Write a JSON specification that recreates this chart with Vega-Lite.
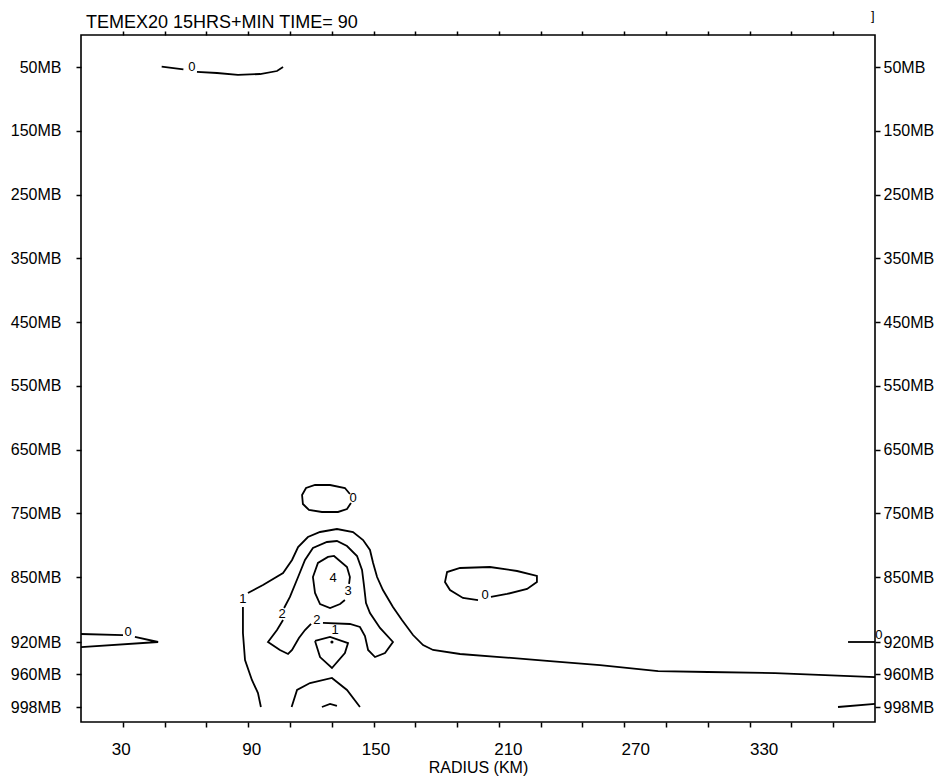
{
  "$schema": "https://vega.github.io/schema/vega-lite/v6.json",
  "width": 794,
  "height": 687,
  "autosize": {"type": "none"},
  "padding": {"left": 81, "top": 35, "right": 75, "bottom": 59},
  "background": "white",
  "title": {"text": "TEMEX20 15HRS+MIN TIME= 90", "anchor": "start", "frame": "group", "font": "Liberation Sans", "fontSize": 18, "fontWeight": "normal", "color": "black", "dx": 5, "offset": -36, "baseline": "alphabetic"},
  "datasets": {
    "lines": [
      {"seg": "t1", "i": 0, "r": 48.6, "p": 49.5}, {"seg": "t1", "i": 1, "r": 59.0, "p": 53.6},
      {"seg": "t2", "i": 0, "r": 65.5, "p": 57.8}, {"seg": "t2", "i": 1, "r": 75.1, "p": 59.4}, {"seg": "t2", "i": 2, "r": 85.1, "p": 62.5}, {"seg": "t2", "i": 3, "r": 95.7, "p": 61.0}, {"seg": "t2", "i": 4, "r": 103.8, "p": 56.3}, {"seg": "t2", "i": 5, "r": 106.7, "p": 50},
      {"seg": "ov", "i": 0, "r": 138.7, "p": 719.8}, {"seg": "ov", "i": 1, "r": 136.3, "p": 710.4}, {"seg": "ov", "i": 2, "r": 129.2, "p": 705.7}, {"seg": "ov", "i": 3, "r": 122.0, "p": 705.7}, {"seg": "ov", "i": 4, "r": 117.7, "p": 710.4}, {"seg": "ov", "i": 5, "r": 115.8, "p": 721.4}, {"seg": "ov", "i": 6, "r": 116.2, "p": 735.5}, {"seg": "ov", "i": 7, "r": 119.1, "p": 744.9}, {"seg": "ov", "i": 8, "r": 125.3, "p": 748.0}, {"seg": "ov", "i": 9, "r": 133.0, "p": 748.0}, {"seg": "ov", "i": 10, "r": 137.3, "p": 743.3}, {"seg": "ov", "i": 11, "r": 139.2, "p": 733.9},
      {"seg": "c1a", "i": 0, "r": 87.5, "p": 882.3}, {"seg": "c1a", "i": 1, "r": 87.5, "p": 910.3}, {"seg": "c1a", "i": 2, "r": 88.5, "p": 942.5}, {"seg": "c1a", "i": 3, "r": 91.8, "p": 966.9}, {"seg": "c1a", "i": 4, "r": 94.7, "p": 981.9}, {"seg": "c1a", "i": 5, "r": 96.1, "p": 998},
      {"seg": "c1b", "i": 0, "r": 89.9, "p": 867.2}, {"seg": "c1b", "i": 1, "r": 97.1, "p": 858.6}, {"seg": "c1b", "i": 2, "r": 106.7, "p": 843.7}, {"seg": "c1b", "i": 3, "r": 111.0, "p": 823.3}, {"seg": "c1b", "i": 4, "r": 113.9, "p": 803.0}, {"seg": "c1b", "i": 5, "r": 118.6, "p": 787.3}, {"seg": "c1b", "i": 6, "r": 124.4, "p": 779.4}, {"seg": "c1b", "i": 7, "r": 132.5, "p": 774.7}, {"seg": "c1b", "i": 8, "r": 140.2, "p": 779.4}, {"seg": "c1b", "i": 9, "r": 145.0, "p": 792.0}, {"seg": "c1b", "i": 10, "r": 148.3, "p": 807.6}, {"seg": "c1b", "i": 11, "r": 149.8, "p": 828.0}, {"seg": "c1b", "i": 12, "r": 151.7, "p": 850.0}, {"seg": "c1b", "i": 13, "r": 154.5, "p": 864.0}, {"seg": "c1b", "i": 14, "r": 159.3, "p": 882.3}, {"seg": "c1b", "i": 15, "r": 163.6, "p": 896.3}, {"seg": "c1b", "i": 16, "r": 168.9, "p": 912.5}, {"seg": "c1b", "i": 17, "r": 173.7, "p": 923.8}, {"seg": "c1b", "i": 18, "r": 178.5, "p": 930.0}, {"seg": "c1b", "i": 19, "r": 191.4, "p": 935.0}, {"seg": "c1b", "i": 20, "r": 210.5, "p": 938.8}, {"seg": "c1b", "i": 21, "r": 234.5, "p": 943.8}, {"seg": "c1b", "i": 22, "r": 258.4, "p": 948.8}, {"seg": "c1b", "i": 23, "r": 286.2, "p": 956.3}, {"seg": "c1b", "i": 24, "r": 310.1, "p": 957.5}, {"seg": "c1b", "i": 25, "r": 342.2, "p": 958.8}, {"seg": "c1b", "i": 26, "r": 366.1, "p": 961.2}, {"seg": "c1b", "i": 27, "r": 390, "p": 963.5},
      {"seg": "c2a", "i": 0, "r": 107.2, "p": 883.4}, {"seg": "c2a", "i": 1, "r": 110.0, "p": 871.5}, {"seg": "c2a", "i": 2, "r": 113.9, "p": 850.0}, {"seg": "c2a", "i": 3, "r": 117.2, "p": 823.3}, {"seg": "c2a", "i": 4, "r": 121.0, "p": 804.5}, {"seg": "c2a", "i": 5, "r": 127.7, "p": 795.1}, {"seg": "c2a", "i": 6, "r": 132.5, "p": 793.5}, {"seg": "c2a", "i": 7, "r": 137.3, "p": 801.4}, {"seg": "c2a", "i": 8, "r": 142.1, "p": 817.1}, {"seg": "c2a", "i": 9, "r": 144.5, "p": 839.0}, {"seg": "c2a", "i": 10, "r": 145.4, "p": 858.6}, {"seg": "c2a", "i": 11, "r": 146.4, "p": 878.0}, {"seg": "c2a", "i": 12, "r": 148.3, "p": 888.8}, {"seg": "c2a", "i": 13, "r": 153.1, "p": 904.9}, {"seg": "c2a", "i": 14, "r": 159.3, "p": 920.0}, {"seg": "c2a", "i": 15, "r": 155.5, "p": 933.8}, {"seg": "c2a", "i": 16, "r": 150.7, "p": 938.8}, {"seg": "c2a", "i": 17, "r": 147.4, "p": 930.0}, {"seg": "c2a", "i": 18, "r": 145.9, "p": 913.6}, {"seg": "c2a", "i": 19, "r": 143.5, "p": 903.8}, {"seg": "c2a", "i": 20, "r": 138.7, "p": 900.6}, {"seg": "c2a", "i": 21, "r": 125.8, "p": 899.5},
      {"seg": "c2b", "i": 0, "r": 120.1, "p": 900.6}, {"seg": "c2b", "i": 1, "r": 117.2, "p": 907.1}, {"seg": "c2b", "i": 2, "r": 114.3, "p": 915.7}, {"seg": "c2b", "i": 3, "r": 111.0, "p": 930.0}, {"seg": "c2b", "i": 4, "r": 109.1, "p": 935.0}, {"seg": "c2b", "i": 5, "r": 105.2, "p": 930.0}, {"seg": "c2b", "i": 6, "r": 99.5, "p": 920.0}, {"seg": "c2b", "i": 7, "r": 103.8, "p": 907.1}, {"seg": "c2b", "i": 8, "r": 106.7, "p": 896.3},
      {"seg": "c3", "i": 0, "r": 136.3, "p": 874.8}, {"seg": "c3", "i": 1, "r": 134.0, "p": 879.1}, {"seg": "c3", "i": 2, "r": 129.2, "p": 883.4}, {"seg": "c3", "i": 3, "r": 124.4, "p": 879.1}, {"seg": "c3", "i": 4, "r": 122.0, "p": 867.2}, {"seg": "c3", "i": 5, "r": 121.0, "p": 850.0}, {"seg": "c3", "i": 6, "r": 123.4, "p": 828.0}, {"seg": "c3", "i": 7, "r": 128.2, "p": 818.6}, {"seg": "c3", "i": 8, "r": 131.1, "p": 817.0}, {"seg": "c3", "i": 9, "r": 137.3, "p": 834.3}, {"seg": "c3", "i": 10, "r": 138.7, "p": 850.0}, {"seg": "c3", "i": 11, "r": 138.3, "p": 857.5},
      {"seg": "dm", "i": 0, "r": 122.0, "p": 918.9}, {"seg": "dm", "i": 1, "r": 129.2, "p": 914.6}, {"seg": "dm", "i": 2, "r": 137.8, "p": 921.3}, {"seg": "dm", "i": 3, "r": 136.3, "p": 933.8}, {"seg": "dm", "i": 4, "r": 130.1, "p": 952.5}, {"seg": "dm", "i": 5, "r": 124.4, "p": 938.8}, {"seg": "dm", "i": 6, "r": 122.0, "p": 918.9},
      {"seg": "ar", "i": 0, "r": 110.8, "p": 998}, {"seg": "ar", "i": 1, "r": 113.4, "p": 978.4}, {"seg": "ar", "i": 2, "r": 119.6, "p": 970.4}, {"seg": "ar", "i": 3, "r": 130.1, "p": 964.6}, {"seg": "ar", "i": 4, "r": 137.3, "p": 978.4}, {"seg": "ar", "i": 5, "r": 143.5, "p": 998},
      {"seg": "sa", "i": 0, "r": 125.3, "p": 998}, {"seg": "sa", "i": 1, "r": 129.2, "p": 994.5}, {"seg": "sa", "i": 2, "r": 132.5, "p": 996.8},
      {"seg": "ro", "i": 0, "r": 206.2, "p": 871.5}, {"seg": "ro", "i": 1, "r": 213.9, "p": 868.3}, {"seg": "ro", "i": 2, "r": 223.5, "p": 862.9}, {"seg": "ro", "i": 3, "r": 228.2, "p": 855.4}, {"seg": "ro", "i": 4, "r": 228.2, "p": 848.4}, {"seg": "ro", "i": 5, "r": 218.7, "p": 840.6}, {"seg": "ro", "i": 6, "r": 205.7, "p": 834.3}, {"seg": "ro", "i": 7, "r": 191.4, "p": 835.9}, {"seg": "ro", "i": 8, "r": 185.2, "p": 842.2}, {"seg": "ro", "i": 9, "r": 184.2, "p": 855.4}, {"seg": "ro", "i": 10, "r": 186.6, "p": 864.0}, {"seg": "ro", "i": 11, "r": 192.8, "p": 872.6}, {"seg": "ro", "i": 12, "r": 200.0, "p": 874.8},
      {"seg": "l1", "i": 0, "r": 10, "p": 911.4}, {"seg": "l1", "i": 1, "r": 30.1, "p": 912.5},
      {"seg": "l2", "i": 0, "r": 35.8, "p": 914.6}, {"seg": "l2", "i": 1, "r": 46.9, "p": 920.0}, {"seg": "l2", "i": 2, "r": 10, "p": 926.3},
      {"seg": "r1", "i": 0, "r": 377.1, "p": 920}, {"seg": "r1", "i": 1, "r": 390, "p": 920},
      {"seg": "r2", "i": 0, "r": 372.3, "p": 998}, {"seg": "r2", "i": 1, "r": 390, "p": 994.3}
    ],
    "labels": [
      {"r": 63.1, "p": 50, "t": "0"},
      {"r": 140.2, "p": 726.1, "t": "0"},
      {"r": 87.5, "p": 873.7, "t": "1"},
      {"r": 106.2, "p": 889.8, "t": "2"},
      {"r": 122.9, "p": 896.3, "t": "2"},
      {"r": 131.6, "p": 907.1, "t": "1"},
      {"r": 137.8, "p": 865.1, "t": "3"},
      {"r": 130.6, "p": 851.1, "t": "4"},
      {"r": 203.4, "p": 869.4, "t": "0"},
      {"r": 32.5, "p": 909.2, "t": "0"},
      {"r": 391.9, "p": 912.5, "t": "0"},
      {"r": 389, "p": -30, "t": "]"}
    ],
    "dots": [{"r": 130.1, "p": 920}]
  },
  "layer": [
    {
      "data": {"name": "lines"},
      "mark": {"type": "line", "color": "black", "strokeWidth": 1.8, "clip": false},
      "encoding": {
        "x": {"field": "r", "type": "quantitative",
          "scale": {"domain": [10, 390], "nice": false, "zero": false},
          "axis": {"orient": "bottom", "values": [30, 50, 70, 90, 110, 130, 150, 170, 190, 210, 230, 250, 270, 290, 310, 330, 350, 370],
            "labelExpr": "(datum.value - 30) % 60 == 0 ? datum.label : ''",
            "labelOffset": {"condition": [{"test": "datum.value == 30", "value": -2}, {"test": "datum.value == 90", "value": 3}, {"test": "datum.value == 150", "value": 2}, {"test": "datum.value == 210", "value": 9}, {"test": "datum.value == 270", "value": 11}, {"test": "datum.value == 330", "value": 14}], "value": 0},
            "title": "RADIUS (KM)", "titleFont": "Liberation Sans", "titleFontSize": 16, "titleFontWeight": "normal", "titleColor": "black", "titlePadding": 2,
            "labelFont": "Liberation Sans", "labelFontSize": 17, "labelColor": "black", "labelPadding": 14, "labelOverlap": false, "labelFlush": false,
            "tickSize": 5, "tickColor": "black", "tickWidth": 1.5, "domain": false, "grid": false}},
        "y": {"field": "p", "type": "quantitative",
          "scale": {"domain": [0, 50, 850, 920, 960, 998, 1017], "range": [0, 32, 542, 607, 639, 672, 687], "nice": false, "zero": false},
          "axis": {"orient": "left", "values": [50, 150, 250, 350, 450, 550, 650, 750, 850, 920, 960, 998],
            "labelExpr": "datum.value + 'MB'", "title": null,
            "labelFont": "Liberation Sans", "labelFontSize": 16, "labelColor": "black", "labelPadding": 15, "labelOverlap": false, "labelFlush": false,
            "tickSize": 5, "tickColor": "black", "tickWidth": 1.5, "domain": false, "grid": false}},
        "detail": {"field": "seg", "type": "nominal"},
        "order": {"field": "i", "type": "quantitative"}
      }
    },
    {
      "data": {"name": "labels"},
      "mark": {"type": "text", "font": "Liberation Sans", "fontSize": 13, "fill": "black", "color": "black", "align": "center", "baseline": "middle", "clip": false},
      "encoding": {
        "x": {"field": "r", "type": "quantitative",
          "scale": {"domain": [10, 390], "nice": false, "zero": false},
          "axis": {"orient": "top", "values": [30, 50, 70, 90, 110, 130, 150, 170, 190, 210, 230, 250, 270, 290, 310, 330, 350, 370],
            "labels": false, "title": null, "tickSize": 4, "tickColor": "black", "tickWidth": 1.5, "domain": false, "grid": false}},
        "y": {"field": "p", "type": "quantitative",
          "scale": {"domain": [0, 50, 850, 920, 960, 998, 1017], "range": [0, 32, 542, 607, 639, 672, 687], "nice": false, "zero": false},
          "axis": {"orient": "right", "values": [50, 150, 250, 350, 450, 550, 650, 750, 850, 920, 960, 998],
            "labelExpr": "datum.value + 'MB'", "title": null,
            "labelFont": "Liberation Sans", "labelFontSize": 16, "labelColor": "black", "labelPadding": 3, "labelOverlap": false, "labelFlush": false,
            "tickSize": 5, "tickColor": "black", "tickWidth": 1.5, "domain": false, "grid": false}},
        "text": {"field": "t", "type": "nominal"}
      }
    },
    {
      "data": {"name": "dots"},
      "mark": {"type": "point", "filled": true, "color": "black", "size": 10, "opacity": 1},
      "encoding": {
        "x": {"field": "r", "type": "quantitative", "scale": {"domain": [10, 390], "nice": false, "zero": false}, "axis": null},
        "y": {"field": "p", "type": "quantitative", "scale": {"domain": [0, 50, 850, 920, 960, 998, 1017], "range": [0, 32, 542, 607, 639, 672, 687], "nice": false, "zero": false}, "axis": null}
      }
    }
  ],
  "resolve": {"axis": {"x": "independent", "y": "independent"}},
  "config": {"view": {"stroke": "black", "strokeWidth": 1.6}}
}
